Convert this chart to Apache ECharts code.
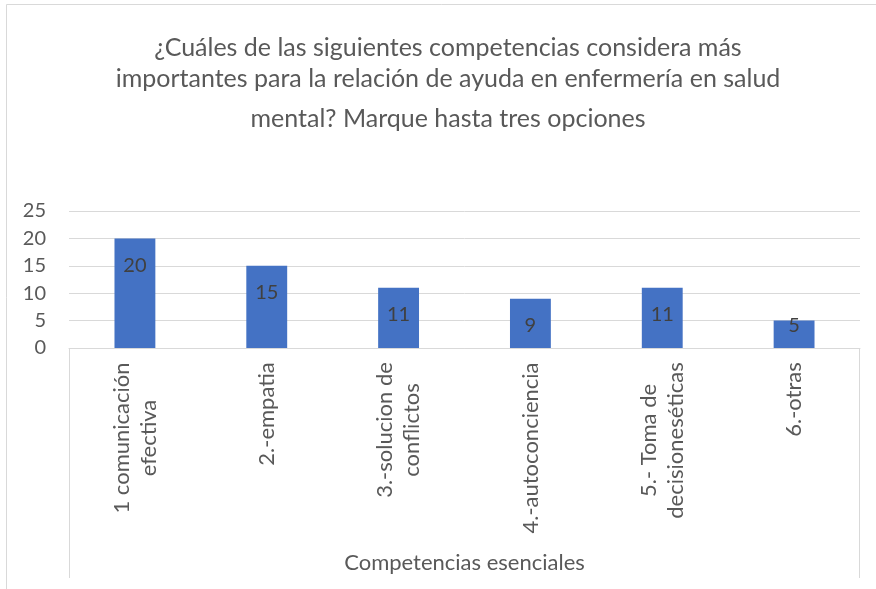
<!DOCTYPE html>
<html>
<head>
<meta charset="utf-8">
<script src="https://cdn.jsdelivr.net/npm/echarts@6/dist/echarts.min.js"></script>
<style>
  html, body { margin: 0; padding: 0; background: #fff; }
  #chart { width: 876px; height: 589px; }
</style>
</head>
<body>
<div id="chart"></div>
<script>
const titleLines = "¿Cuáles de las siguientes competencias considera más\nimportantes para la relación de ayuda en enfermería en salud";
const titleLast = "mental? Marque hasta tres opciones";
const categories = [
  "1 comunicación\nefectiva",
  "2.-empatia",
  "3.-solucion de\nconflictos",
  "4.-autoconciencia",
  "5.- Toma de\ndecisioneséticas",
  "6.-otras",
];
const values = [20, 15, 11, 9, 11, 5];
const yTicks = { min: 0, max: 25, interval: 5 };
const axisTitle = "Competencias esenciales";

const FONT = "Lato";
const SIZE = 22;
const NUM_SIZE = 20;
const gridLeft = 69, gridRight = 860, gridTop = 211, gridBottom = 348;

// measure label lines so wrapped lines can be centred in their block
let ctx = document.createElement("canvas").getContext("2d");
ctx.font = SIZE + "px " + FONT;
let rich = {};
categories.forEach((c, i) => {
  let w = Math.max(...c.split("\n").map((s) => ctx.measureText(s).width));
  rich["r" + i] = {
    width: Math.ceil(w),
    align: "center",
    fontFamily: FONT,
    fontSize: SIZE,
    color: "#595959",
    lineHeight: 27,
  };
});

let chart = echarts.init(document.getElementById("chart"), null, { renderer: "canvas" });

let option = {
  animation: false,
  backgroundColor: "#fff",
  title: {
    text: titleLines,
    subtext: titleLast,
    left: 443,
    top: 27,
    textAlign: "center",
    itemGap: 9,
    textStyle: { fontFamily: FONT, fontSize: 25, fontWeight: "normal", color: "#595959", lineHeight: 31 },
    subtextStyle: { fontFamily: FONT, fontSize: 25, color: "#595959", lineHeight: 31 },
  },
  grid: {
    left: gridLeft,
    right: 876 - gridRight,
    top: gridTop,
    bottom: 589 - gridBottom,
    containLabel: false,
  },
  xAxis: {
    type: "category",
    data: categories,
    name: axisTitle,
    nameLocation: "middle",
    nameGap: 204,
    nameTextStyle: { fontFamily: FONT, fontSize: SIZE, color: "#595959" },
    axisLine: { lineStyle: { color: "#d9d9d9" } },
    axisTick: { show: false },
    axisLabel: {
      rotate: 90,
      margin: 14,
      interval: 0,
      formatter: (v, i) =>
        v.split("\n").map((s) => "{r" + i + "|" + s + "}").join("\n"),
      rich: rich,
    },
  },
  yAxis: {
    type: "value",
    min: yTicks.min,
    max: yTicks.max,
    interval: yTicks.interval,
    axisLine: { show: false },
    axisTick: { show: false },
    axisLabel: { margin: 23, fontFamily: FONT, fontSize: NUM_SIZE, color: "#595959" },
    splitLine: { lineStyle: { color: "#d9d9d9", width: 1 } },
  },
  series: [
    {
      type: "bar",
      barWidth: "31%",
      data: values.map((v) => ({
        value: v,
        label: v < 8 ? { offset: [0, -22] } : {},
      })),
      itemStyle: { color: "#4472c4" },
      label: {
        show: true,
        position: "insideTop",
        distance: 17,
        fontFamily: FONT,
        fontSize: NUM_SIZE,
        color: "#404040",
      },
    },
  ],
  graphic: [
    {
      type: "rect",
      shape: { x: 6.5, y: 4.5, width: 900, height: 700 },
      style: { fill: null, stroke: "#d9d9d9", lineWidth: 1 },
      silent: true,
    },
    {
      type: "line",
      shape: { x1: gridLeft + 0.5, y1: gridBottom, x2: gridLeft + 0.5, y2: 578 },
      style: { stroke: "#d9d9d9", lineWidth: 1 },
      silent: true,
    },
    {
      type: "line",
      shape: { x1: gridRight - 0.5, y1: gridBottom, x2: gridRight - 0.5, y2: 578 },
      style: { stroke: "#d9d9d9", lineWidth: 1 },
      silent: true,
    },
  ],
};

chart.setOption(option);
</script>
</body>
</html>
